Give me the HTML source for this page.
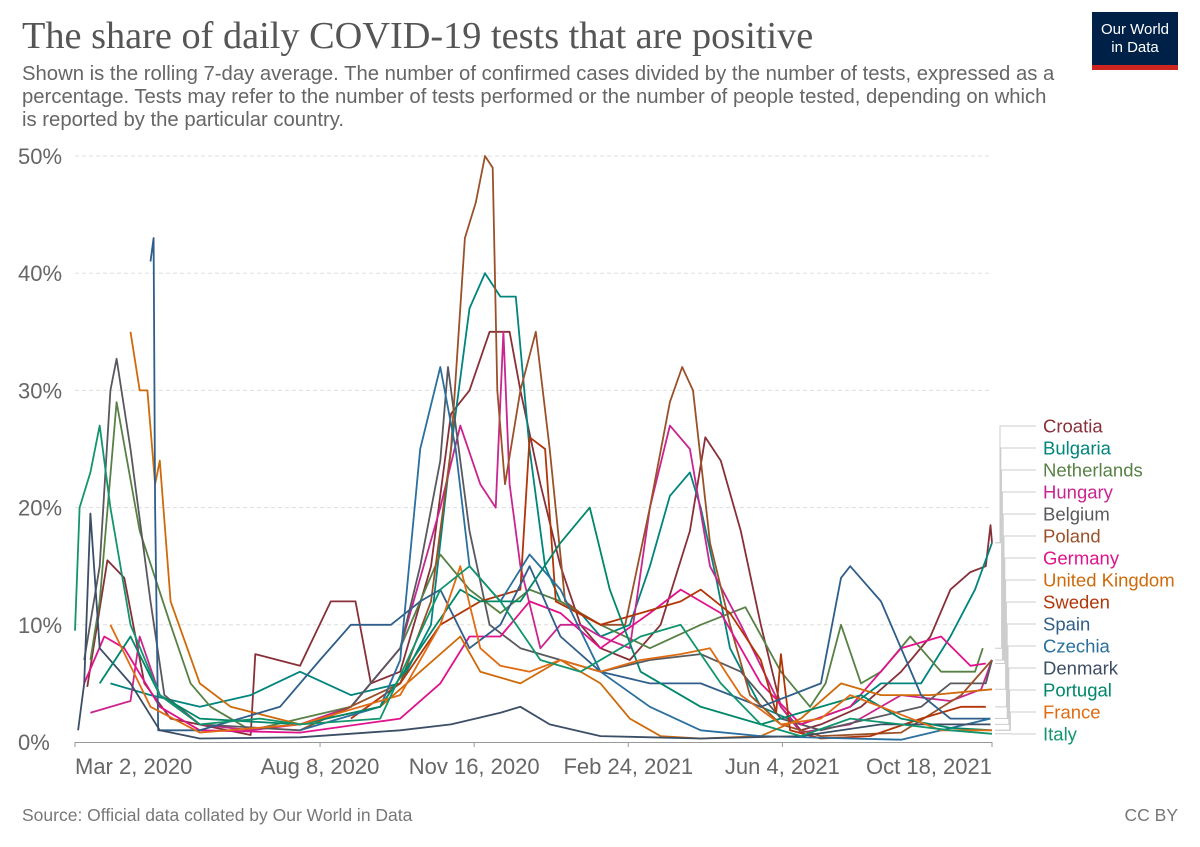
<!DOCTYPE html>
<html><head><meta charset="utf-8">
<style>
body{margin:0;background:#fff;width:1200px;height:847px;overflow:hidden;font-family:"Liberation Sans",sans-serif}
#title{position:absolute;left:22px;top:14px;font-family:"Liberation Serif",serif;font-size:38.3px;color:#555;margin:0;font-weight:normal;white-space:nowrap}
#sub{position:absolute;left:22px;top:63px;width:1040px;font-size:20.3px;line-height:23px;color:#666}
#logo{position:absolute;left:1092px;top:12px;width:86px;height:58px;background:#002147;color:#fff;font-size:15px;line-height:18px;text-align:center;box-sizing:border-box;padding-top:9px;border-bottom:5px solid #ce261e}
#src{position:absolute;left:22px;top:805px;font-size:17.5px;color:#777}
#cc{position:absolute;right:22px;top:805px;font-size:17.5px;color:#777}
svg{position:absolute;left:0;top:0}
</style></head><body>
<h1 id="title">The share of daily COVID-19 tests that are positive</h1>
<div id="sub">Shown is the rolling 7-day average. The number of confirmed cases divided by the number of tests, expressed as a percentage. Tests may refer to the number of tests performed or the number of people tested, depending on which is reported by the particular country.</div>
<div id="logo">Our World<br>in Data</div>
<div id="src">Source: Official data collated by Our World in Data</div>
<div id="cc">CC BY</div>
<svg id="chart" width="1200" height="847"></svg>
<script>
const yTicks=[0,10,20,30,40,50];
const xTickLabels=["Mar 2, 2020","Aug 8, 2020","Nov 16, 2020","Feb 24, 2021","Jun 4, 2021","Oct 18, 2021"];
const xTickDays=[0,159,259,359,459,595];
const names=["Croatia","Bulgaria","Netherlands","Hungary","Belgium","Poland","Germany","United Kingdom","Sweden","Spain","Czechia","Denmark","Portugal","France","Italy"];
const colors=["#883039","#00847e","#578145","#c9258f","#58585e","#9a5129","#e0138c","#cf6a0a","#b13507","#2f5e8a","#2a6f9e","#3c4e66","#00876a","#e06b12","#12956e"];
const croatiaDays=[8,21,32,45,62,114,117,146,166,182,192,211,231,244,256,269,282,289,302,315,328,341,360,380,399,409,419,432,445,458,471,484,510,536,555,568,581,591,594,595];
const croatiaVals=[4.7,15.5,14,5,2,0.6,7.5,6.5,12,12,5,6,15,28,30,35,35,30,22,15,10,8,7,10,18,26,24,18,10,3,1,1.5,3,6,9,13,14.5,15,18.5,17];
const bulgariaDays=[23,49,81,114,146,179,211,231,244,256,266,276,286,295,305,315,328,341,360,373,386,399,406,416,425,445,471,503,523,549,568,584,595];
const bulgariaVals=[5,4,3,4,6,4,5,10,25,37,40,38,38,25,15,12,11,9,10,15,21,23,20,14,8,3,1.5,3,5,5,9,13,17];
const netherlandsDays=[10,16,27,42,62,75,88,114,146,179,211,237,256,276,295,315,341,373,406,435,458,477,487,497,510,523,542,562,584,589];
const netherlandsVals=[7,12,29,18,10,5,3,1,2,3,8,16,13,11,13,12,10,8,10,11.5,6,3,5,10,5,6,9,6,6,8];
const hungaryDays=[10,36,42,55,81,114,146,179,211,237,250,263,273,278,282,289,302,315,328,341,360,373,386,399,412,432,458,471,503,536,568,588,595];
const hungaryVals=[2.5,3.5,9,4,1.5,1,1.5,3,8,20,27,22,20,35,22,15,8,10,10,9,8,20,27,25,15,10,3,0.8,1.5,4,3.5,4.5,7];
const belgiumDays=[6,16,23,27,36,49,58,81,146,179,211,224,237,242,256,269,289,315,341,373,406,432,458,484,516,549,568,591,595];
const belgiumVals=[7,15,30,32.7,25,12,4,1.5,1,3,8,15,24,32,18,10,8,7,6,7,7.5,6,2,1,2,3,5,5,7];
const polandDays=[146,211,231,244,253,260,266,271,274,279,289,299,308,318,328,341,357,373,386,394,401,412,425,438,458,484,536,575,595];
const polandVals=[1,5,12,25,43,46,50,49,30,22,30,35,25,12,11,10,10,20,29,32,30,17,10,4,1.5,0.5,0.8,4,7];
const germanyDays=[6,19,32,55,81,146,211,237,256,276,295,315,341,373,393,419,445,471,503,536,562,581,591];
const germanyVals=[5,9,8,3,1,0.8,2,5,9,9,12,11,8,11,13,11,5,1.5,3,8,9,6.5,6.7];
const ukDays=[36,42,47,52,55,62,81,101,146,198,224,250,263,289,315,341,360,380,406,445,471,497,523,555,595];
const ukVals=[35,30,30,22,24,12,5,3,1.5,3,6,9,6,5,7,5,2,0.5,0.3,0.5,2,5,4,4,4.5];
const swedenDays=[179,211,237,263,289,295,305,312,341,367,393,406,425,445,455,458,464,484,516,549,575,591];
const swedenVals=[2,5,10,12,13,26,25,12,10,11,12,13,11,7,2.5,7.5,1,0.3,0.5,2,3,3];
const spainDays=[49,51,52,54,81,133,159,179,205,224,237,256,276,295,315,341,373,406,445,484,497,503,523,549,568,594];
const spainVals=[41,43,20,1,1,3,7,10,10,12,13,8,10,15,9,6,5,5,3,5,14,15,12,4,2,2];
const czechiaDays=[146,198,211,224,237,247,256,276,295,315,341,373,406,445,503,536,594];
const czechiaVals=[1,3,7,25,32,25,15,12,16,13,6,3,1,0.5,0.3,0.2,2];
const denmarkDays=[2,6,10,16,36,55,81,146,211,244,276,289,308,341,406,471,523,568,594];
const denmarkVals=[1,5,19.5,8,5,1,0.3,0.4,1,1.5,2.5,3,1.5,0.5,0.3,0.5,1.5,1.5,1.5];
const portugalDays=[16,36,55,81,146,198,224,250,263,289,315,334,347,367,406,445,484,510,536,568,595];
const portugalVals=[5,9,4,2,1.5,3,8,13,12,12,17,20,13,6,3,1.5,3,4,2,1.2,1];
const franceDays=[23,49,81,146,211,237,250,263,276,295,315,341,367,393,412,432,458,484,503,523,562,595];
const franceVals=[10,3,0.8,1.5,4,10,15,8,6.5,6,7,6,7,7.5,8,4,1.5,2,4,3,1,1];
const italyDays=[0,3,10,16,23,36,55,81,120,146,198,237,256,276,302,328,367,393,419,445,471,503,536,568,595];
const italyVals=[9.5,20,23,27,20,10,4,1.5,2,1.5,2,13,15,12,7,6,9,10,5,1.5,0.5,2,1.5,1,0.7];
const seriesDays=[croatiaDays,bulgariaDays,netherlandsDays,hungaryDays,belgiumDays,polandDays,germanyDays,ukDays,swedenDays,spainDays,czechiaDays,denmarkDays,portugalDays,franceDays,italyDays];
const seriesVals=[croatiaVals,bulgariaVals,netherlandsVals,hungaryVals,belgiumVals,polandVals,germanyVals,ukVals,swedenVals,spainVals,czechiaVals,denmarkVals,portugalVals,franceVals,italyVals];

const NS="http://www.w3.org/2000/svg";
const svg=document.getElementById('chart');
const X0=75,X1=992,Y0=742,Y1=156,DMAX=595,VMAX=50;
const xs=d=>X0+(d/DMAX)*(X1-X0);
const ys=v=>Y0-(v/VMAX)*(Y0-Y1);
function mk(t,a){const e=document.createElementNS(NS,t);for(const k in a)e.setAttribute(k,a[k]);svg.appendChild(e);return e;}
yTicks.forEach(v=>{
  if(v>0){const g=mk('line',{x1:X0,x2:X1,y1:ys(v),y2:ys(v),stroke:'#ddd','stroke-dasharray':'4,3'});
  
  }
  const t=mk('text',{x:18,y:ys(v)+8,'font-size':22,fill:'#666'});t.textContent=v+'%';
  
  
});
const ax=mk('line',{x1:X0,x2:X1,y1:Y0+0.5,y2:Y0+0.5,stroke:'#999'});


xTickLabels.forEach((l,i)=>{
  const x=xs(xTickDays[i]);
  const tk=mk('line',{x1:x,x2:x,y1:Y0,y2:Y0+5,stroke:'#999'});
  
  
  const anchor=i==0?'start':(i==xTickLabels.length-1?'end':'middle');
  const t=mk('text',{x:x,y:Y0+32,'font-size':22,fill:'#666','text-anchor':anchor});t.textContent=l;
  
  
});
const ends=[];
names.forEach((n,i)=>{
  const d=seriesDays[i],v=seriesVals[i];
  const pts=d.map((dd,j)=>xs(dd).toFixed(1)+','+ys(v[j]).toFixed(1)).join(' ');
  const p=mk('polyline',{points:pts,fill:'none',stroke:colors[i],'stroke-width':1.8,'stroke-linejoin':'round'});
  
  
  ends.push(ys(v[v.length-1]));
});
names.forEach((n,i)=>{
  const ly=426+i*22.0;
  const xk=1000+i*0.8;
  const c=mk('polyline',{points:`995,${ends[i]} ${xk},${ends[i]} ${xk},${ly} 1036,${ly}`,fill:'none',stroke:'#ccc','stroke-width':1});
  
  
  const t=mk('text',{x:1043,y:ly+6.5,'font-size':18.5,fill:colors[i]});t.textContent=n;
  
  
});
</script>
</body></html>
